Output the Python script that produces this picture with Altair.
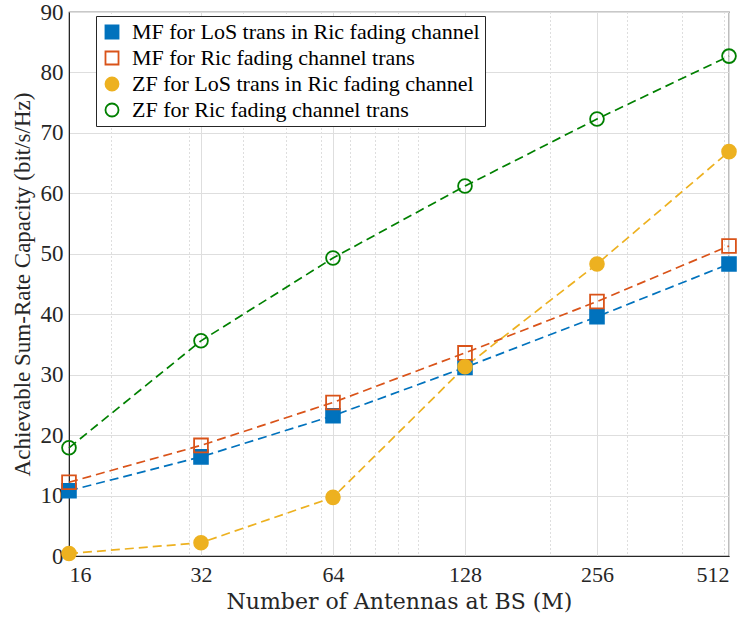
import altair as alt
import pandas as pd

antennas = [16, 32, 64, 128, 256, 512]
series_names = [
    "MF for LoS trans in Ric fading channel",
    "MF for Ric fading channel trans",
    "ZF for LoS trans in Ric fading channel",
    "ZF for Ric fading channel trans",
]
mf_los = [10.8, 16.4, 23.2, 31.2, 39.6, 48.3]
mf_ric = [12.2, 18.3, 25.4, 33.6, 42.1, 51.3]
zf_los = [0.4, 2.2, 9.7, 31.3, 48.3, 66.9]
zf_ric = [17.9, 35.6, 49.3, 61.2, 72.3, 82.7]

major_ticks = [16, 32, 64, 128, 256, 512]
minor_ticks = [20, 30, 40, 50, 60, 70, 80, 90, 100, 200, 300, 400, 500]
y_ticks = [0, 10, 20, 30, 40, 50, 60, 70, 80, 90]

colors = ["#0072BD", "#D95319", "#EDB120", "#008000"]
fills = ["#0072BD", "transparent", "#EDB120", "transparent"]
shapes = ["square", "square", "circle", "circle"]

rows = []
for name, vals in zip(series_names, [mf_los, mf_ric, zf_los, zf_ric]):
    for m, v in zip(antennas, vals):
        rows.append({"M": m, "rate": v, "series": name})
df = pd.DataFrame(rows)

FONT = "Liberation Serif"
all_ticks = sorted(major_ticks + minor_ticks)
major_str = "[" + ",".join(str(v) for v in major_ticks) + "]"

x_enc = alt.X(
    "M:Q",
    scale=alt.Scale(type="log", base=2, domain=[16, 512], nice=False),
    axis=alt.Axis(
        values=all_ticks,
        labelExpr=f"indexof({major_str}, datum.value) >= 0 ? format(datum.value, 'd') : ''",
        labelOverlap=False,
        title="Number of Antennas at BS (M)",
        gridDash={"condition": {"test": f"indexof({major_str}, datum.value) < 0", "value": [1, 3]}, "value": []},
        gridColor={"condition": {"test": f"indexof({major_str}, datum.value) < 0", "value": "#bdbdbd"}, "value": "#dedede"},
    ),
)
y_enc = alt.Y(
    "rate:Q",
    scale=alt.Scale(domain=[0, 90], nice=False),
    axis=alt.Axis(values=y_ticks, title="Achievable Sum-Rate Capacity (bit/s/Hz)"),
)

stroke_scale = alt.Scale(domain=series_names, range=colors)

lines = alt.Chart(df).mark_line(strokeDash=[9, 5], strokeWidth=1.7).encode(
    x=x_enc,
    y=y_enc,
    stroke=alt.Stroke("series:N", scale=stroke_scale, title=None),
    detail="series:N",
)

points = alt.Chart(df).mark_point(filled=True, strokeWidth=1.8, opacity=1).encode(
    x=x_enc,
    y=y_enc,
    stroke=alt.Stroke("series:N", scale=stroke_scale, title=None),
    fill=alt.Fill("series:N", scale=alt.Scale(domain=series_names, range=fills), title=None),
    shape=alt.Shape("series:N", scale=alt.Scale(domain=series_names, range=shapes), title=None),
    size=alt.value(190),
)

chart = (
    alt.layer(lines, points)
    .properties(
        width=660,
        height=544,
        autosize=alt.AutoSizeParams(type="none"),
        padding={"left": 69, "top": 12, "right": 19, "bottom": 65},
    )
    .configure_view(stroke="#262626", strokeWidth=1.2)
    .configure_axis(
        labelFont=FONT,
        titleFont=FONT,
        labelFontSize=23,
        titleFontSize=23,
        labelColor="#262626",
        titleColor="#262626",
        titleFontWeight="normal",
        domainColor="#262626",
        ticks=False,
        grid=True,
        gridColor="#dedede",
    )
    .configure_axisX(titlePadding=6, labelPadding=8, titleFont="DejaVu Serif", titleFontSize=22, labelFontSize=22)
    .configure_axisY(titlePadding=6, labelPadding=6)
    .configure_legend(
        orient="none",
        legendX=27,
        legendY=4,
        labelFont=FONT,
        labelFontSize=22,
        labelColor="#000000",
        strokeColor="#262626",
        fillColor="white",
        padding=5,
        rowPadding=4,
        symbolSize=170,
        symbolStrokeWidth=1.8,
        labelOffset=9,
        labelLimit=600,
    )
)

chart.save("out.html", embed_options={"renderer": "svg", "actions": False})
